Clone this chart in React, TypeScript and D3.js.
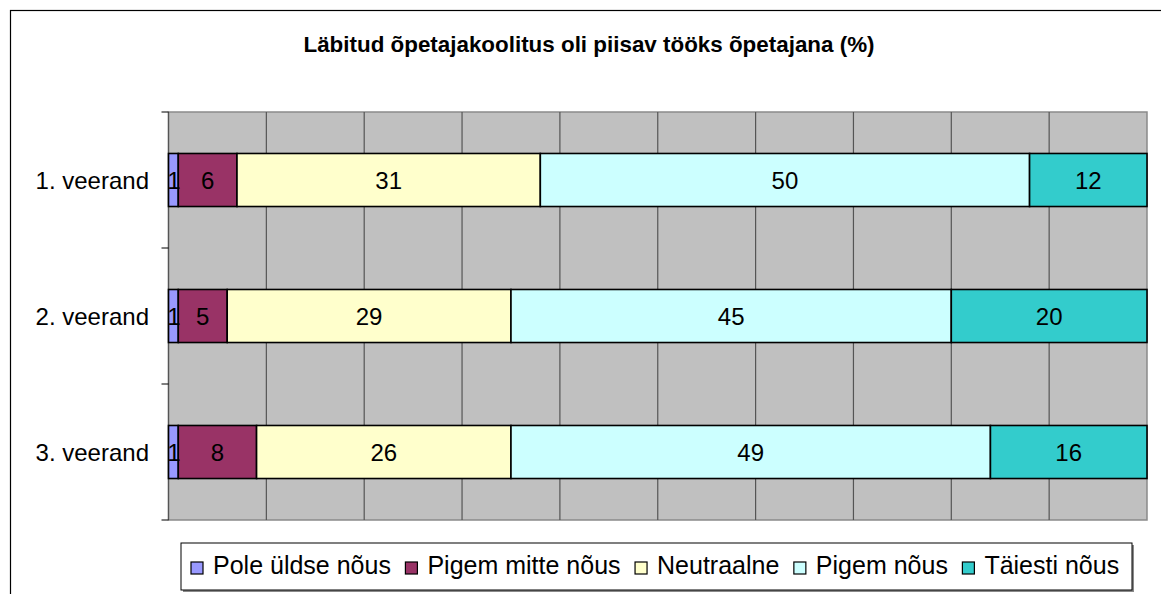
import React, { useEffect, useRef } from "react";
import * as d3 from "d3";

const title = "Läbitud õpetajakoolitus oli piisav tööks õpetajana (%)";
const categories = ["1. veerand", "2. veerand", "3. veerand"];
const seriesNames = ["Pole üldse nõus", "Pigem mitte nõus", "Neutraalne", "Pigem nõus", "Täiesti nõus"];
const seriesColors = ["#9999FF", "#993366", "#FFFFCC", "#CCFFFF", "#33CCCC"];
const values1 = [1, 6, 31, 50, 12];
const values2 = [1, 5, 29, 45, 20];
const values3 = [1, 8, 26, 49, 16];
const xTicks = [0, 10, 20, 30, 40, 50, 60, 70, 80, 90, 100];

const W = 1161;
const H = 594;
const FONT = "'Liberation Sans', Arial, sans-serif";

export default function App() {
  const ref = useRef<SVGSVGElement | null>(null);

  useEffect(() => {
    const svg = d3.select(ref.current);
    svg.selectAll("*").remove();

    const rows = [values1, values2, values3];
    const plot = { left: 168.5, right: 1147, top: 112, bottom: 520 };

    // outer chart border
    svg.append("rect").attr("x", 10.5).attr("y", 10.5).attr("width", 1300).attr("height", 800)
      .attr("fill", "#fff").attr("stroke", "#000").attr("stroke-width", 1.2);

    svg.append("text").attr("x", 589).attr("y", 52).attr("text-anchor", "middle")
      .attr("font-family", FONT).attr("font-weight", "bold").attr("font-size", 22.4)
      .attr("fill", "#000").text(title);

    const x = d3.scaleLinear().domain([0, 100]).range([plot.left, plot.right]);
    const y = d3.scaleBand<string>().domain(categories).range([plot.top, plot.bottom]).paddingInner(0.61).paddingOuter(0.305);

    // plot background
    svg.append("rect").attr("x", plot.left).attr("y", plot.top)
      .attr("width", plot.right - plot.left).attr("height", plot.bottom - plot.top)
      .attr("fill", "#C0C0C0").attr("stroke", "#8a8a8a").attr("stroke-width", 1.5);

    // gridlines
    svg.append("g").selectAll("line").data(xTicks.slice(1, -1)).join("line")
      .attr("x1", (d) => x(d)).attr("x2", (d) => x(d))
      .attr("y1", plot.top).attr("y2", plot.bottom)
      .attr("stroke", "#555").attr("stroke-width", 1.2);

    // category axis
    const bandStep = (plot.bottom - plot.top) / categories.length;
    const tickYs = d3.range(categories.length + 1).map((i) => plot.top + i * bandStep);
    svg.append("line").attr("x1", plot.left).attr("x2", plot.left).attr("y1", plot.top).attr("y2", plot.bottom)
      .attr("stroke", "#555").attr("stroke-width", 1.2);
    svg.append("g").selectAll("line").data(tickYs).join("line")
      .attr("x1", plot.left - 7).attr("x2", plot.left).attr("y1", (d) => d).attr("y2", (d) => d)
      .attr("stroke", "#000").attr("stroke-width", 1);

    svg.append("g").selectAll("text").data(categories).join("text")
      .attr("x", 149).attr("y", (d) => (y(d) as number) + y.bandwidth() / 2 + 8.5)
      .attr("text-anchor", "end").attr("font-family", FONT).attr("font-size", 24).attr("fill", "#000")
      .text((d) => d);

    // bars
    rows.forEach((vals, ri) => {
      const cat = categories[ri];
      const stacked = d3.cumsum(vals);
      const segs = vals.map((v, i) => ({ v, i, x0: stacked[i] - v, x1: stacked[i] }));
      const g = svg.append("g");
      g.selectAll("rect").data(segs).join("rect")
        .attr("x", (d) => x(d.x0)).attr("y", y(cat) as number)
        .attr("width", (d) => x(d.x1) - x(d.x0)).attr("height", y.bandwidth())
        .attr("fill", (d) => seriesColors[d.i]).attr("stroke", "#000").attr("stroke-width", 1.6);
      g.selectAll("text").data(segs).join("text")
        .attr("x", (d) => (x(d.x0) + x(d.x1)) / 2 + (d.v < 2 ? 0.5 : 0))
        .attr("y", (y(cat) as number) + y.bandwidth() / 2 + 8.8)
        .attr("text-anchor", "middle").attr("font-family", FONT).attr("font-size", 24).attr("fill", "#000")
        .text((d) => String(d.v));
    });

    // legend
    const lg = { left: 181, top: 543, right: 1132, bottom: 590 };
    svg.append("rect").attr("x", lg.left + 2).attr("y", lg.top + 2).attr("width", lg.right - lg.left).attr("height", lg.bottom - lg.top)
      .attr("fill", "#8a8a8a");
    svg.append("rect").attr("x", lg.left).attr("y", lg.top).attr("width", lg.right - lg.left).attr("height", lg.bottom - lg.top)
      .attr("fill", "#fff").attr("stroke", "#000").attr("stroke-width", 1);

    let cx = 191;
    seriesNames.forEach((name, i) => {
      svg.append("rect").attr("x", cx).attr("y", 562).attr("width", 12).attr("height", 12)
        .attr("fill", seriesColors[i]).attr("stroke", "#000").attr("stroke-width", 1.2);
      const t = svg.append("text").attr("x", cx + 22).attr("y", 573.5)
        .attr("font-family", FONT).attr("font-size", 25).attr("fill", "#000").text(name);
      const len = (t.node() as SVGTextElement).getComputedTextLength();
      cx = cx + 22 + len + 14.5;
    });
  }, []);

  return (
    <svg ref={ref} width={W} height={H} style={{ position: "absolute", left: 0, top: 0, background: "#fff" }} />
  );
}
